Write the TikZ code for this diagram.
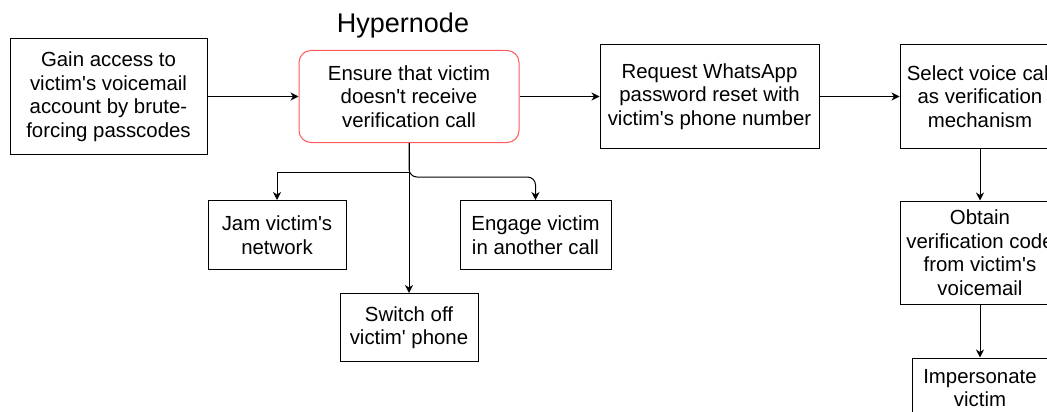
\documentclass[tikz,border=0pt]{standalone}
\usepackage{fontspec}
\setmainfont{Liberation Sans}
\usetikzlibrary{arrows.meta, positioning}
\definecolor{hyperred}{RGB}{255,90,90}
\newcommand{\apos}{\textquotesingle}

\begin{document}
\begin{tikzpicture}[x=1pt, y=1pt,
      action/.style={draw, line width=1pt, align=center, inner sep=2pt, font=\fontsize{20.4}{23.5}\selectfont},
      hypernode/.style={action, draw=hyperred, rounded corners=12pt},
      arrow/.style={-{Stealth[length=8pt, width=8pt, inset=2.5pt]}, line width=1pt},
      title/.style={inner sep=0pt, font=\fontsize{27}{30}\selectfont}
    ]
    \useasboundingbox (0,-412) rectangle (1047,0);
    \clip (0,-412) rectangle (1047,0);

    \node[action, minimum width=197pt, minimum height=115pt] (access) at (108.5,-96.5)
      {Gain access to\\victim\apos s voicemail\\account by brute-\\forcing passcodes};
    \node[hypernode, right=91pt of access, minimum width=220pt, minimum height=92pt] (ensure)
      {Ensure that victim\\doesn\apos t receive\\verification call};
    \node[title, above=12pt of ensure, xshift=-6pt] (hyperlabel) {Hypernode};
    \node[action, right=80pt of ensure, minimum width=219pt, minimum height=103pt] (reset)
      {Request WhatsApp\\password reset with\\victim\apos s phone number};
    \node[action, right=80pt of reset, minimum width=160pt, minimum height=103pt] (voicecall)
      {Select voice call\\as verification\\mechanism};
    \node[action, below=52pt of voicecall, minimum width=160pt, minimum height=103pt] (code)
      {Obtain\\verification code\\from victim\apos s\\voicemail};
    \node[action, below=53pt of code, minimum width=136pt, minimum height=60pt] (impersonate)
      {Impersonate\\victim};

    % ways to block the call
    \node[action, below=57pt of ensure, xshift=-132pt, minimum width=138pt, minimum height=69pt] (jam)
      {Jam victim\apos s\\network};
    \node[action, below=57pt of ensure, xshift=126.5pt, minimum width=151pt, minimum height=69pt] (engage)
      {Engage victim\\in another call};
    \node[action, below=150pt of ensure, minimum width=138pt, minimum height=68pt] (switchoff)
      {Switch off\\victim\apos{} phone};

    \draw[arrow] (access) -- (ensure);
    \draw[arrow] (ensure) -- (reset);
    \draw[arrow] (reset) -- (voicecall);
    \draw[arrow] (voicecall) -- (code);
    \draw[arrow] (code) -- (impersonate);
    \draw[arrow] (ensure.south) -- (switchoff.north);
    \draw[arrow] (ensure.south) -- ++(0,-29) -| (jam.north);
    \draw[arrow, rounded corners=8pt] (ensure.south) -- ++(0,-34) -| (engage.north);
  \end{tikzpicture}
\end{document}
